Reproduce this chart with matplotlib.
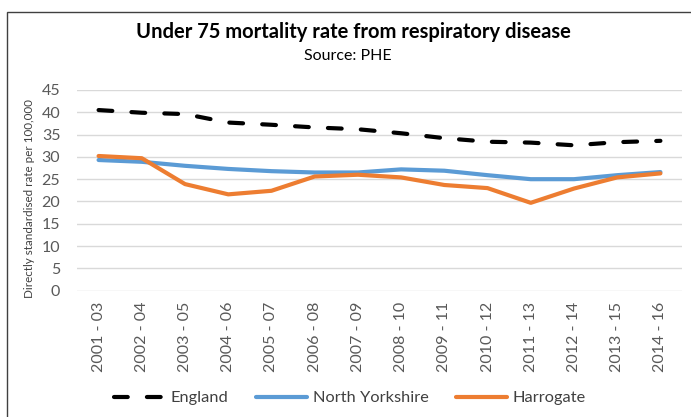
import matplotlib
matplotlib.use("Agg")
import matplotlib.pyplot as plt
from matplotlib.patches import Rectangle
import numpy as np

plt.rcParams['font.family'] = ['Lato', 'DejaVu Sans']

PERIODS = ["2001 - 03", "2002 - 04", "2003 - 05", "2004 - 06", "2005 - 07",
           "2006 - 08", "2007 - 09", "2008 - 10", "2009 - 11", "2010 - 12",
           "2011 - 13", "2012 - 14", "2013 - 15", "2014 - 16"]
ENGLAND = [40.5, 39.9, 39.6, 37.7, 37.2, 36.6, 36.2,
           35.3, 34.2, 33.4, 33.2, 32.6, 33.3, 33.6]
NORTH_YORKSHIRE = [29.3, 28.9, 28.0, 27.3, 26.8, 26.5, 26.5,
                   27.2, 26.9, 25.9, 25.0, 25.0, 25.9, 26.6]
HARROGATE = [30.2, 29.7, 23.9, 21.6, 22.4, 25.6, 26.0,
             25.4, 23.7, 23.0, 19.7, 22.9, 25.4, 26.3]

TEXT_COLOR = "#595959"
CENTER_X = 352 / 691  # titles and legend sit a bit left of the figure centre

fig = plt.figure(figsize=(6.91, 4.17), dpi=100)
ax = fig.add_axes([0.1114, 0.3029, 0.987 - 0.1114, 0.7842 - 0.3029])

x = np.arange(len(PERIODS))
ax.plot(x, ENGLAND, color="black", lw=3, dashes=(3.3, 4.6),
        dash_capstyle="round", label="England")
ax.plot(x, NORTH_YORKSHIRE, color="#5B9BD5", lw=3, solid_capstyle="round",
        label="North Yorkshire")
ax.plot(x, HARROGATE, color="#ED7D31", lw=3, solid_capstyle="round",
        label="Harrogate")

ax.set_ylim(0, 45)
ax.set_yticks(np.arange(0, 46, 5))
ax.set_xlim(-0.5, len(PERIODS) - 0.5)
ax.set_xticks(x, PERIODS, rotation=90)
ax.grid(axis="y", color="#D9D9D9", lw=1)
ax.set_axisbelow(True)
for s in ax.spines.values():
    s.set_visible(False)
ax.tick_params(length=0, colors=TEXT_COLOR, labelsize=11.5)
ax.tick_params(axis="x", pad=8)
ax.tick_params(axis="y", pad=12)

fig.text(29.5 / 691, 1 - 199 / 417, "Directly standardised rate per 100,000",
         rotation=90, ha="center", va="center", fontsize=8.4, color="#404040")
fig.text(353 / 691, 1 - 32 / 417, "Under 75 mortality rate from respiratory disease",
         ha="center", va="center", fontsize=14.5, fontweight="bold", color="black")
fig.text(348 / 691, 1 - 56 / 417, "Source: PHE", ha="center", va="center",
         fontsize=11.5, color="black")

fig.legend(loc="center", bbox_to_anchor=(CENTER_X - 2 / 691, 1 - 398 / 417), ncols=3,
           frameon=False, fontsize=11.8, handlelength=3.1, handletextpad=0.35,
           columnspacing=1.7, labelcolor="#404040")

fig.patches.append(Rectangle((7 / 691, -0.1), 1.2, 1 - 12 / 417 + 0.1,
                             transform=fig.transFigure, fill=False,
                             ec="#404040", lw=1))

fig.savefig("out.png", dpi=100)
